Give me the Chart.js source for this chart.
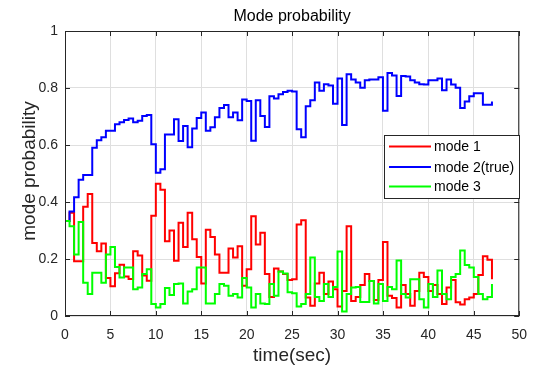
<!DOCTYPE html>
<html>
<head>
<meta charset="utf-8">
<style>
  html, body { margin: 0; padding: 0; background: #fff; }
  #modeChart { display: block; }
</style>
<script src="https://cdn.jsdelivr.net/npm/chart.js@4.4.1/dist/chart.umd.min.js"></script>
</head>
<body>
<canvas id="modeChart" width="538" height="369"></canvas>
<script>
// sample times (sec)
const times = [
    0, 0.5, 1, 1.5, 2, 2.5, 3, 3.5, 4, 4.5, 5, 5.5, 6, 6.5, 7, 7.5, 8, 8.5, 9, 9.5,
    10, 10.5, 11, 11.5, 12, 12.5, 13, 13.5, 14, 14.5, 15, 15.5, 16, 16.5, 17, 17.5, 18, 18.5, 19, 19.5,
    20, 20.5, 21, 21.5, 22, 22.5, 23, 23.5, 24, 24.5, 25, 25.5, 26, 26.5, 27, 27.5, 28, 28.5, 29, 29.5,
    30, 30.5, 31, 31.5, 32, 32.5, 33, 33.5, 34, 34.5, 35, 35.5, 36, 36.5, 37, 37.5, 38, 38.5, 39, 39.5,
    40, 40.5, 41, 41.5, 42, 42.5, 43, 43.5, 44, 44.5, 45, 45.5, 46, 46.5, 47
];

const mode1 = [
    0.333, 0.362, 0.192, 0.192, 0.383, 0.428, 0.256, 0.227, 0.254, 0.133,
    0.104, 0.150, 0.180, 0.139, 0.130, 0.227, 0.212, 0.142, 0.124, 0.352,
    0.464, 0.443, 0.262, 0.300, 0.194, 0.327, 0.242, 0.362, 0.269, 0.207,
    0.114, 0.303, 0.277, 0.216, 0.152, 0.152, 0.237, 0.205, 0.245, 0.106,
    0.164, 0.350, 0.251, 0.292, 0.147, 0.067, 0.167, 0.156, 0.147, 0.126,
    0.129, 0.321, 0.336, 0.065, 0.036, 0.114, 0.152, 0.077, 0.121, 0.094,
    0.033, 0.088, 0.315, 0.053, 0.067, 0.109, 0.147, 0.123, 0.056, 0.126,
    0.260, 0.071, 0.063, 0.030, 0.109, 0.077, 0.036, 0.088, 0.152, 0.137,
    0.088, 0.109, 0.077, 0.042, 0.100, 0.126, 0.048, 0.040, 0.059, 0.065,
    0.077, 0.144, 0.210, 0.197, 0.129
];

const mode2 = [
    0.333, 0.367, 0.417, 0.478, 0.495, 0.495, 0.590, 0.617, 0.627, 0.650,
    0.650, 0.673, 0.680, 0.688, 0.693, 0.680, 0.685, 0.702, 0.705, 0.603,
    0.503, 0.515, 0.637, 0.637, 0.690, 0.614, 0.667, 0.592, 0.658, 0.695,
    0.714, 0.650, 0.662, 0.697, 0.730, 0.740, 0.697, 0.714, 0.687, 0.760,
    0.754, 0.615, 0.757, 0.702, 0.663, 0.771, 0.763, 0.778, 0.786, 0.790,
    0.788, 0.655, 0.627, 0.736, 0.757, 0.819, 0.790, 0.813, 0.809, 0.745,
    0.833, 0.670, 0.848, 0.830, 0.819, 0.801, 0.827, 0.830, 0.830, 0.838,
    0.720, 0.853, 0.844, 0.772, 0.842, 0.840, 0.827, 0.819, 0.813, 0.812,
    0.827, 0.827, 0.833, 0.792, 0.830, 0.812, 0.801, 0.730, 0.753, 0.771,
    0.782, 0.782, 0.741, 0.741, 0.753
];

const mode3 = [
    0.333, 0.315, 0.216, 0.330, 0.117, 0.077, 0.152, 0.152, 0.117, 0.216,
    0.242, 0.172, 0.135, 0.170, 0.170, 0.094, 0.100, 0.147, 0.164, 0.042,
    0.030, 0.042, 0.098, 0.074, 0.112, 0.114, 0.044, 0.086, 0.094, 0.170,
    0.170, 0.044, 0.044, 0.077, 0.112, 0.106, 0.071, 0.077, 0.065, 0.133,
    0.100, 0.030, 0.077, 0.044, 0.042, 0.112, 0.071, 0.156, 0.149, 0.083,
    0.080, 0.033, 0.042, 0.077, 0.205, 0.067, 0.053, 0.112, 0.067, 0.102,
    0.226, 0.016, 0.077, 0.100, 0.102, 0.049, 0.049, 0.123, 0.044, 0.112,
    0.053, 0.102, 0.094, 0.195, 0.077, 0.065, 0.129, 0.129, 0.059, 0.030,
    0.112, 0.067, 0.160, 0.077, 0.059, 0.137, 0.147, 0.230, 0.179, 0.170,
    0.137, 0.077, 0.059, 0.067, 0.112
];

const seriesNames = ['mode 1', 'mode 2(true)', 'mode 3'];
const seriesColors = ['#ff0000', '#0000ff', '#00ff00'];
const xTickValues = [0, 5, 10, 15, 20, 25, 30, 35, 40, 45, 50];
const yTickValues = [0, 0.2, 0.4, 0.6, 0.8, 1];

const FONT = "'Liberation Sans', Arial, Helvetica, sans-serif";
const AXIS_COLOR = '#262626';

const toPoints = vals => vals.map((v, i) => ({ x: times[i], y: v }));

// frame, inward ticks, title, axis labels and legend, MATLAB style
const matlabDecor = {
    id: 'matlabDecor',
    afterDraw(chart) {
        const { ctx, chartArea: a, scales: { x, y } } = chart;
        ctx.save();
        ctx.strokeStyle = AXIS_COLOR;
        ctx.lineWidth = 1;
        ctx.strokeRect(a.left + 0.5, a.top + 0.5, a.right - a.left - 1, a.bottom - a.top - 1);

        const tl = 5;
        ctx.beginPath();
        xTickValues.forEach(v => {
            const px = Math.round(x.getPixelForValue(v)) + 0.5;
            ctx.moveTo(px, a.bottom); ctx.lineTo(px, a.bottom - tl);
            ctx.moveTo(px, a.top); ctx.lineTo(px, a.top + tl);
        });
        yTickValues.forEach(v => {
            const py = Math.round(y.getPixelForValue(v)) + 0.5;
            ctx.moveTo(a.left, py); ctx.lineTo(a.left + tl, py);
            ctx.moveTo(a.right, py); ctx.lineTo(a.right - tl, py);
        });
        ctx.stroke();

        ctx.fillStyle = '#000';
        ctx.textAlign = 'center';
        ctx.textBaseline = 'middle';
        ctx.font = '16px ' + FONT;
        ctx.fillText('Mode probability', (a.left + a.right) / 2, 17);

        ctx.fillStyle = AXIS_COLOR;
        ctx.font = '19px ' + FONT;
        ctx.fillText('time(sec)', (a.left + a.right) / 2, 356);
        ctx.save();
        ctx.translate(30, 171);
        ctx.rotate(-Math.PI / 2);
        ctx.fillText('mode probability', 0, 0);
        ctx.restore();

        // legend
        const box = { x: 384.5, y: 135.5, w: 135, h: 63 };
        ctx.fillStyle = '#fff';
        ctx.fillRect(box.x, box.y, box.w, box.h);
        ctx.strokeStyle = AXIS_COLOR;
        ctx.strokeRect(box.x, box.y, box.w, box.h);
        const rows = [146.5, 167, 186.5];
        ctx.font = '14px ' + FONT;
        ctx.textAlign = 'left';
        rows.forEach((ry, i) => {
            ctx.strokeStyle = seriesColors[i];
            ctx.lineWidth = 2;
            ctx.beginPath();
            ctx.moveTo(389, ry);
            ctx.lineTo(431, ry);
            ctx.stroke();
            ctx.fillStyle = '#000';
            ctx.fillText(seriesNames[i], 434, ry + 1);
        });
        ctx.restore();
    }
};

const ctx = document.querySelector('#modeChart').getContext('2d');
const modeChart = new Chart(ctx, {
    type: 'line',
    data: {
        datasets: [mode1, mode2, mode3].map((vals, i) => ({
            label: seriesNames[i],
            data: toPoints(vals),
            borderColor: seriesColors[i],
            backgroundColor: seriesColors[i],
            borderWidth: 2,
            pointRadius: 0,
            fill: false,
            stepped: 'before',
            order: 3 - i
        }))
    },
    options: {
        responsive: false,
        animation: false,
        devicePixelRatio: 1,
        layout: { padding: { left: 0, right: 17, top: 31, bottom: 0 } },
        plugins: {
            legend: { display: false },
            tooltip: { enabled: false },
            title: { display: false }
        },
        scales: {
            x: {
                type: 'linear',
                min: 0,
                max: 50,
                afterFit: s => { s.height = 53; },
                afterBuildTicks: s => { s.ticks = xTickValues.map(v => ({ value: v })); },
                ticks: {
                    color: AXIS_COLOR,
                    font: { family: FONT, size: 14 },
                    padding: 11,
                    maxRotation: 0,
                    callback: v => String(v)
                },
                grid: { color: '#dfdfdf', drawTicks: false },
                border: { display: false }
            },
            y: {
                min: 0,
                max: 1,
                afterFit: s => { s.width = 65; },
                afterBuildTicks: s => { s.ticks = yTickValues.map(v => ({ value: v })); },
                ticks: {
                    color: AXIS_COLOR,
                    font: { family: FONT, size: 14 },
                    padding: 7,
                    callback: v => String(Math.round(v * 10) / 10)
                },
                grid: { color: '#dfdfdf', drawTicks: false },
                border: { display: false }
            }
        }
    },
    plugins: [matlabDecor]
});
</script>
</body>
</html>
